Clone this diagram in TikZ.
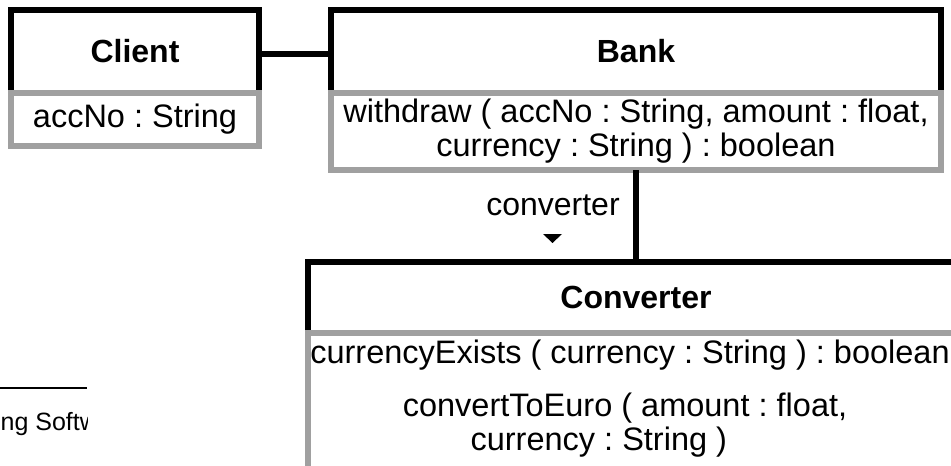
\documentclass[tikz,border=0pt]{standalone}
\usepackage{fontspec}
\setmainfont{Liberation Sans}
\frenchspacing
\usetikzlibrary{positioning}
\definecolor{cgrey}{HTML}{A0A0A0}
\definecolor{cblack}{HTML}{000000}
\tikzset{
  every picture/.style={line width=5.2pt},
  classhead/.style={draw=cblack, fill=white, line width=5.2pt, inner sep=0pt, outer sep=0pt, font=\fontsize{32}{34}\selectfont\bfseries},
  classbody/.style={draw=cgrey, fill=white, line width=5.2pt, inner sep=0pt, outer sep=0pt, align=center, font=\fontsize{32.5}{34}\selectfont},
  member/.style={inner sep=0pt, font=\fontsize{32.5}{34}\selectfont},
  assoc/.style={draw=cblack, line width=5.5pt},
  role/.style={inner sep=0pt, font=\fontsize{32}{34}\selectfont},
  footer/.style={inner sep=0pt, font=\fontsize{25}{27}\selectfont},
}
\begin{document}
\begin{tikzpicture}[x=1pt, y=-1pt]
  \clip (0,0) rectangle (951,466);
  % classes
  \node[classhead, minimum width=248, minimum height=83] (client) at (135,51.5) {Client};
  \node[classbody, minimum width=248, minimum height=53, below=0pt of client] (clientattr) {accNo : String};
  \node[classhead, minimum width=610, minimum height=83] (bank) at (636,51.5) {Bank};
  \node[classbody, minimum width=610, minimum height=77, below=0pt of bank] (bankops)
    {withdraw ( accNo : String, amount : float,\\currency : String ) : boolean};
  \node[classhead, minimum width=656, minimum height=71] (conv) at (636,297.5) {Converter};
  \node[classbody, minimum width=656, minimum height=190, below=0pt of conv] (convops) {};
  \node[member, anchor=base] (exists) at (630,363) {currencyExists ( currency : String ) : boolean};
  \node[member, anchor=base] (toeuro) at (625,416) {convertToEuro ( amount : float,};
  \node[member, anchor=base west] (toeuro2) at (468,450) {currency : String )};
  % associations
  \draw[assoc] ([yshift=-2.5pt]client.east) -- ([yshift=-2.5pt]bank.west);
  \draw[assoc] (bankops.south) -- (conv.north);
  \node[role, anchor=base] (rolename) at (553,215) {converter};
  \fill[cblack] (543,234) -- (562,234) -- (552.5,243) -- cycle;
  % page footer fragment
  \draw[line width=2pt] (0,388) -- (87,388);
  \begin{scope}
    \clip (0,380) rectangle (87,466);
    \node[footer, anchor=base west] (pagefoot) at (-2,430) {ng Softw};
  \end{scope}
\end{tikzpicture}
\end{document}
